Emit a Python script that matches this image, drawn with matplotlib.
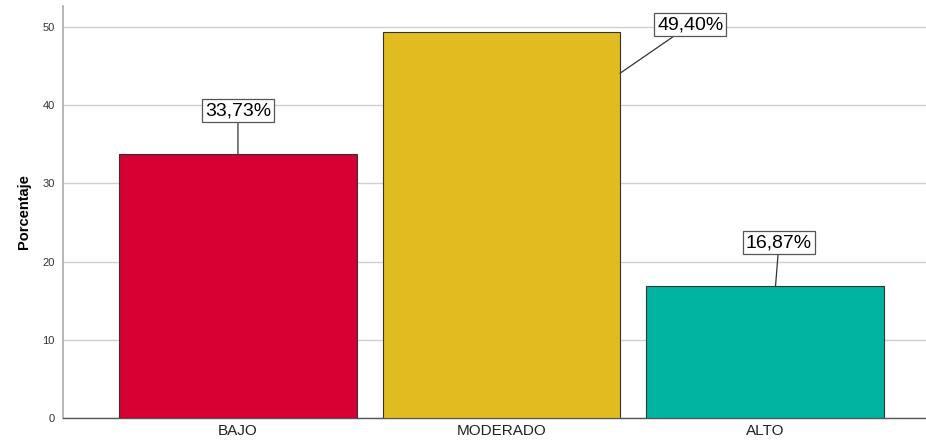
import matplotlib.pyplot as plt

plt.rcParams['font.family'] = ['Liberation Sans', 'DejaVu Sans']

categories = ['BAJO', 'MODERADO', 'ALTO']
values = [33.73, 49.40, 16.87]
labels = ['33,73%', '49,40%', '16,87%']
colors = ['#D70033', '#E0BC20', '#00B3A0']

# where the label boxes sit (offsets from bar center in data units)
label_dx = [0.0, 0.717, 0.053]
label_y = [39.3, 50.3, 22.4]
# anchor point on the bar for the leader line
anchor_dx = [0.0, 0.45, 0.04]
anchor_y_off = [0.0, -5.3, 0.0]

fig = plt.figure(figsize=(9.26, 4.43), dpi=100)
ax = fig.add_axes([0.068, 0.0564, 0.932, 0.930])

x = list(range(len(categories)))
ax.bar(x, values, width=0.9, color=colors, edgecolor='#333333', linewidth=0.8, zorder=3)

for i in x:
    ax.annotate(labels[i],
                xy=(i + anchor_dx[i], values[i] + anchor_y_off[i]),
                xytext=(i + label_dx[i], label_y[i]),
                ha='center', va='center', fontsize=14,
                bbox=dict(boxstyle='square,pad=0.15', fc='white', ec='#555555', lw=0.9),
                arrowprops=dict(arrowstyle='-', color='#333333', lw=0.9,
                                shrinkA=0, shrinkB=0),
                zorder=5)

ax.set_xlim(-0.664, 2.611)
ax.set_ylim(0, 52.7)
ax.set_yticks([0, 10, 20, 30, 40, 50])
ax.set_xticks(x)
ax.set_xticklabels(categories, fontsize=11, color='#222222')
ax.tick_params(axis='y', labelsize=8, length=0, pad=6, labelcolor='#333333')
ax.tick_params(axis='x', length=0, pad=4)
ax.yaxis.grid(True, color='#d0d0d0', lw=1.0, zorder=0)
ax.set_ylabel('Porcentaje', fontsize=10.5, fontweight='bold', labelpad=8)

for s in ['top', 'right']:
    ax.spines[s].set_visible(False)
ax.spines['left'].set_color('#aaaaaa')
ax.spines['left'].set_linewidth(1.2)
ax.spines['bottom'].set_color('#555555')
ax.spines['bottom'].set_linewidth(1.0)

fig.savefig('out.png', dpi=100)
